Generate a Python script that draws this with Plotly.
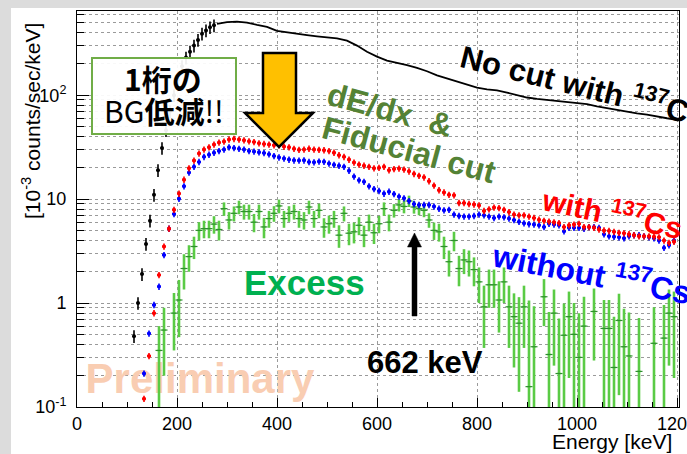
import plotly.graph_objects as go

# ---------------- data ----------------
# "with 137Cs" (red) and "without 137Cs" (blue), after dE/dx & fiducial cut; 10 keV bins
cut_keV = list(range(134, 1195, 10))
red_with_cs = [
    0.12, 0.31, 0.80, 1.86, 3.5, 5.2, 7.9, 11.3, 15.4, 19.8,
    23.5, 27.5, 30, 31.5, 33.5, 35, 35.8, 37.5, 38, 37.5,
    36.8, 36, 35.5, 34.5, 34, 33.5, 33, 33, 32, 31.5,
    30.5, 29.8, 30, 30.6, 30, 29.8, 29.6, 29, 28, 26.5,
    25.5, 24, 22.5, 21.5, 21, 20.5, 19.8, 20, 20.5, 19,
    19.5, 19.7, 19.3, 18.5, 17.5, 16.8, 16.2, 14.9, 13.5, 12.2,
    11.6, 11, 10.9, 9.2, 9.2, 9.0, 8.9, 8.7, 7.7, 8.0,
    8.3, 8.2, 7.9, 7.5, 7.1, 7.0, 7.0, 6.8, 6.6, 6.35,
    6.2, 6.1, 6.0, 5.9, 5.4, 5.6, 5.7, 5.8, 5.4, 5.4,
    5.3, 5.1, 5.0, 4.95, 4.85, 4.75, 4.7, 4.6, 4.5, 4.4,
    4.4, 4.4, 4.35, 4.3, 4.0, 3.8, 3.9,
]
blue_without_cs = [
    0.21, 0.51, 0.96, 1.44, 2.9, 5.2, 7.2, 10.1, 13.3, 18.0,
    20.5, 22.8, 25.5, 26.8, 28, 29, 30, 31.5, 31, 30.5,
    30, 29, 28.7, 28.2, 27.8, 27, 26, 25.2, 24.6, 24,
    23.6, 23.5, 23.6, 22.8, 22.6, 23, 22.9, 22, 21.4, 21,
    20.5, 18.8, 16.5, 15.2, 14.7, 13.3, 12.5, 12.0, 11.3, 11.8,
    11.2, 10.6, 10.2, 9.6, 9.0, 8.8, 8.8, 8.8, 8.5, 8.1,
    7.8, 7.9, 7.1, 6.9, 6.8, 6.8, 6.9, 7.1, 7.0, 6.8,
    6.6, 6.8, 6.7, 6.5, 6.3, 6.05, 5.85, 5.75, 5.7, 5.6,
    5.4, 5.8, 5.7, 5.6, 4.9, 5.3, 5.3, 5.3, 5.2, 5.4,
    5.4, 5.3, 4.6, 4.4, 4.35, 4.3, 4.2, 4.4, 4.5, 4.5,
    4.4, 4.3, 4.2, 4.0, 3.4, 3.6, 4.0,
]

# Excess (green), 10 keV bins
excess_keV = list(range(164, 1195, 10))
excess_val = [
    0.35, 0.55, None, 0.80, 1.07, 2.15, 2.8, 3.5, 5.0, 5.2,
    5.2, 5.75, 5.1, 8.1, 6.3, 7.3, 8.4, 7.6, 7.6, 6.0,
    7.6, 5.4, 6.5, 7.3, 8.6, 6.5, 7.3, 7.6, 6.5, 6.3,
    8.4, 6.5, 7.8, 5.4, 5.8, 6.5, 4.5, 7.3, 4.7, 4.85,
    5.6, 4.5, 6.0, 4.75, 5.8, 8.1, 6.0, 7.8, 8.8, 8.5,
    9.6, 8.4, 8.1, 7.8, 6.3, 5.0, 4.85, 3.5, 2.5, 4.0,
    2.15, 2.6, 2.5, 2.1, 1.6, 0.92, 1.5, 1.5, 1.07, 1.6,
    0.92, 0.74, 0.64, 0.92, 0.157, 0.38, None, 1.15, 0.32, 0.80,
    0.21, 0.49, 0.74, 0.5, 0.30, 0.6, None, 0.83, None, 0.57,
    0.57, 0.24, 0.68, 0.38, 0.31, None, 0.22, None, None, 0.41,
    None, 0.46, 0.8, 0.74,
]
excess_err = [
    0.25, 0.35, 0, 0.45, 0.6, 0.8, 0.8, 0.85, 1.0, 1.0,
    1.0, 1.1, 1.1, 1.2, 1.2, 1.2, 1.25, 1.25, 1.25, 1.2,
    1.25, 1.2, 1.2, 1.25, 1.3, 1.2, 1.25, 1.25, 1.2, 1.2,
    1.25, 1.2, 1.25, 1.15, 1.15, 1.2, 1.1, 1.2, 1.1, 1.1,
    1.1, 1.05, 1.1, 1.05, 1.1, 1.2, 1.1, 1.15, 1.2, 1.2,
    1.2, 1.15, 1.1, 1.1, 1.0, 0.95, 0.95, 0.85, 0.7, 0.85,
    0.7, 0.7, 0.7, 0.65, 0.6, 0.55, 0.6, 0.6, 0.55, 0.6,
    0.55, 0.5, 0.5, 0.55, 0.9, 0.55, 0, 0.55, 0.5, 0.55,
    0.5, 0.5, 0.55, 0.5, 0.5, 0.55, 0, 0.55, 0, 0.5,
    0.5, 0.5, 0.55, 0.5, 0.5, 0, 0.5, 0, 0, 0.5,
    0, 0.5, 0.55, 0.55,
]

# "No cut with 137Cs" (black): rising edge points, then the upper curve
nocut_pt_keV = [114, 122, 130, 138, 146, 154, 162, 170, 178, 186, 194,
                202, 210, 218, 226, 234, 242, 250, 258, 266, 274]
nocut_pt_val = [0.48, 1.0, 1.9, 3.7, 6.2, 11, 19, 31, 46, 70, 100,
                140, 190, 230, 262, 300, 340, 390, 420, 450, 470]
nocut_line_keV = list(range(280, 1201, 20))
nocut_line_val = [
    485, 505, 510, 500, 475, 455, 415, 400, 390, 378,
    368, 360, 352, 335, 300, 262, 235, 215, 205, 195,
    183, 170, 155, 145, 135, 125, 118, 114, 111, 106,
    100, 95, 92, 90, 88, 86, 85, 82, 78, 75,
    72, 69, 67, 65, 62, 60, 58,
]

x_tick_vals = [0, 200, 400, 600, 800, 1000, 1200]
y_tick_vals = [0.1, 1, 10, 100]
y_tick_text = ["10<sup>-1</sup>", "1", "10", "10<sup>2</sup>"]
y_minor_vals = [m * d for d in (0.1, 1, 10, 100) for m in range(2, 10) if m * d < 650]
x_minor_vals = list(range(0, 1201, 50))

# ---------------- layout helpers (pixel -> paper) ----------------
W, H = 687, 454
L, R, T, B = 77, 679, 11, 407


def PX(x):
    return (x - L) / (R - L)


def PY(y):
    return (B - y) / (B - T)


FONT = "Liberation Sans, Arial, sans-serif"
GREEN_BAR = "#5acb45"
fig = go.Figure()

# Preliminary watermark (behind the data)
fig.add_trace(go.Scatter(
    x=[246], y=[0.172], mode="text", text=["<b>Preliminary</b>"],
    textfont=dict(family=FONT, size=42, color="#f9cdb2"),
    textposition="middle center", hoverinfo="skip", showlegend=False))

# Excess (green)
fig.add_trace(go.Scatter(
    x=excess_keV, y=excess_val, mode="markers",
    marker=dict(symbol="line-ew", size=5, color="#2f8f2f",
                line=dict(color="#2f8f2f", width=1.2)),
    error_y=dict(type="data", array=excess_err, color=GREEN_BAR, thickness=2.6, width=0),
    error_x=dict(type="constant", value=3.5, color=GREEN_BAR, thickness=1.5, width=0),
    showlegend=False))

# without 137Cs (blue)
fig.add_trace(go.Scatter(
    x=cut_keV, y=blue_without_cs, mode="markers",
    marker=dict(symbol="circle", size=4, color="#0000ff"),
    error_y=dict(type="percent", value=7, color="#0000ff", thickness=1.6, width=0),
    error_x=dict(type="constant", value=4, color="#0000ff", thickness=1.8, width=0),
    showlegend=False))

# with 137Cs (red)
fig.add_trace(go.Scatter(
    x=cut_keV, y=red_with_cs, mode="markers",
    marker=dict(symbol="circle", size=4, color="#ff0000"),
    error_y=dict(type="percent", value=7, color="#ff0000", thickness=1.6, width=0),
    error_x=dict(type="constant", value=4, color="#ff0000", thickness=1.8, width=0),
    showlegend=False))

# No cut with 137Cs (black)
fig.add_trace(go.Scatter(
    x=nocut_pt_keV, y=nocut_pt_val, mode="markers",
    marker=dict(symbol="circle", size=4, color="black"),
    error_y=dict(type="percent", value=14, color="black", thickness=1.6, width=0),
    error_x=dict(type="constant", value=2.5, color="black", thickness=1.6, width=0),
    showlegend=False))
fig.add_trace(go.Scatter(
    x=nocut_line_keV, y=nocut_line_val, mode="lines",
    line=dict(color="black", width=1.8), showlegend=False))

# ---------------- shapes ----------------
shapes = []
# slide background strips
shapes.append(dict(type="rect", xref="paper", yref="paper", layer="below",
                   x0=PX(0), x1=PX(11), y0=PY(H), y1=PY(0),
                   fillcolor="#dcdcdc", line=dict(width=0)))
shapes.append(dict(type="rect", xref="paper", yref="paper", layer="below",
                   x0=PX(0), x1=PX(W), y0=PY(8), y1=PY(0),
                   fillcolor="#dcdcdc", line=dict(width=0)))
# box "1桁のBG低減!!"
shapes.append(dict(type="rect", xref="paper", yref="paper", layer="above",
                   x0=PX(92), x1=PX(236), y0=PY(134), y1=PY(58),
                   fillcolor="rgba(255,255,255,0.93)", line=dict(color="#70ad47", width=2)))


def poly(pts):
    s = "M " + " L ".join(f"{PX(x):.5f},{PY(y):.5f}" for x, y in pts) + " Z"
    return s


# orange down arrow
shapes.append(dict(type="path", xref="paper", yref="paper", layer="above",
                   path=poly([(263, 53), (296, 53), (296, 113), (313, 113),
                              (279, 147), (245, 113), (263, 113)]),
                   fillcolor="#ffc000", line=dict(color="black", width=2.5)))
# black up arrow at 662 keV
shapes.append(dict(type="path", xref="paper", yref="paper", layer="above",
                   path=poly([(412, 316), (417, 316), (417, 247), (421.5, 247),
                              (414.5, 233), (407.5, 247), (412, 247)]),
                   fillcolor="black", line=dict(color="black", width=0.5)))

# ---------------- annotations ----------------
ann = []


def text(x, y, t, size, color="black", angle=0, family=FONT, **kw):
    ann.append(dict(x=PX(x), y=PY(y), xref="paper", yref="paper", text=t,
                    showarrow=False, textangle=angle, xanchor="center", yanchor="middle",
                    font=dict(family=family, size=size, color=color), **kw))


text(31, 121, "[10<sup>-3</sup> counts/sec/keV]", 21, angle=-90)
text(612, 441, "Energy [keV]", 21)
text(583, 84, "<b>No cut with <sup>137</sup>Cs</b>", 31, angle=14)
text(390, 110, "<b>dE/dx  &amp;</b>", 32, color="#548235", angle=15)
text(409, 150, "<b>Fiducial cut</b>", 32, color="#548235", angle=15)
text(612, 212, "<b>with <sup>137</sup>Cs</b>", 30, color="#ff0000", angle=12)
text(592, 272, "<b>without <sup>137</sup>Cs</b>", 32, color="#0000ff", angle=11)
text(304, 282, "<b>Excess</b>", 35, color="#00b050")
text(425, 362, "<b>662 keV</b>", 31)
text(163, 78, "<b>1桁の</b>", 30, family="Noto Sans CJK JP")
text(164, 110, "BG<b>低減</b>!!", 30, family="Noto Sans CJK JP")

fig.update_layout(
    width=W, height=H, autosize=False,
    margin=dict(l=L, r=W - R, t=T, b=H - B, pad=0, autoexpand=False),
    paper_bgcolor="white", plot_bgcolor="white",
    shapes=shapes, annotations=ann, showlegend=False,
    font=dict(family=FONT, color="black"),
    xaxis=dict(range=[0, 1204], tickvals=x_tick_vals, ticks="inside", ticklen=9,
               tickwidth=1, tickcolor="black", showline=True, mirror=True,
               linecolor="black", linewidth=1, showgrid=True, gridcolor="#9a9a9a",
               griddash="dot", gridwidth=1, zeroline=False, automargin=False,
               tickfont=dict(size=18, family=FONT), ticklabelstandoff=0,
               ticklabeloverflow="allow",
               minor=dict(tickvals=x_minor_vals, ticks="inside", ticklen=5,
                          tickcolor="black", showgrid=False)),
    yaxis=dict(type="log", range=[-1, 2.81], tickvals=y_tick_vals, ticktext=y_tick_text,
               ticks="inside", ticklen=12, tickwidth=1, tickcolor="black",
               showline=True, mirror=True, linecolor="black", linewidth=1,
               showgrid=True, gridcolor="#9a9a9a", griddash="dot", gridwidth=1,
               zeroline=False, automargin=False,
               tickfont=dict(size=18, family=FONT), ticklabelstandoff=6,
               minor=dict(tickvals=y_minor_vals, ticks="inside", ticklen=7,
                          tickcolor="black", showgrid=True, gridcolor="#9a9a9a",
                          griddash="dot", gridwidth=1)),
)

fig.write_html("out.html")
